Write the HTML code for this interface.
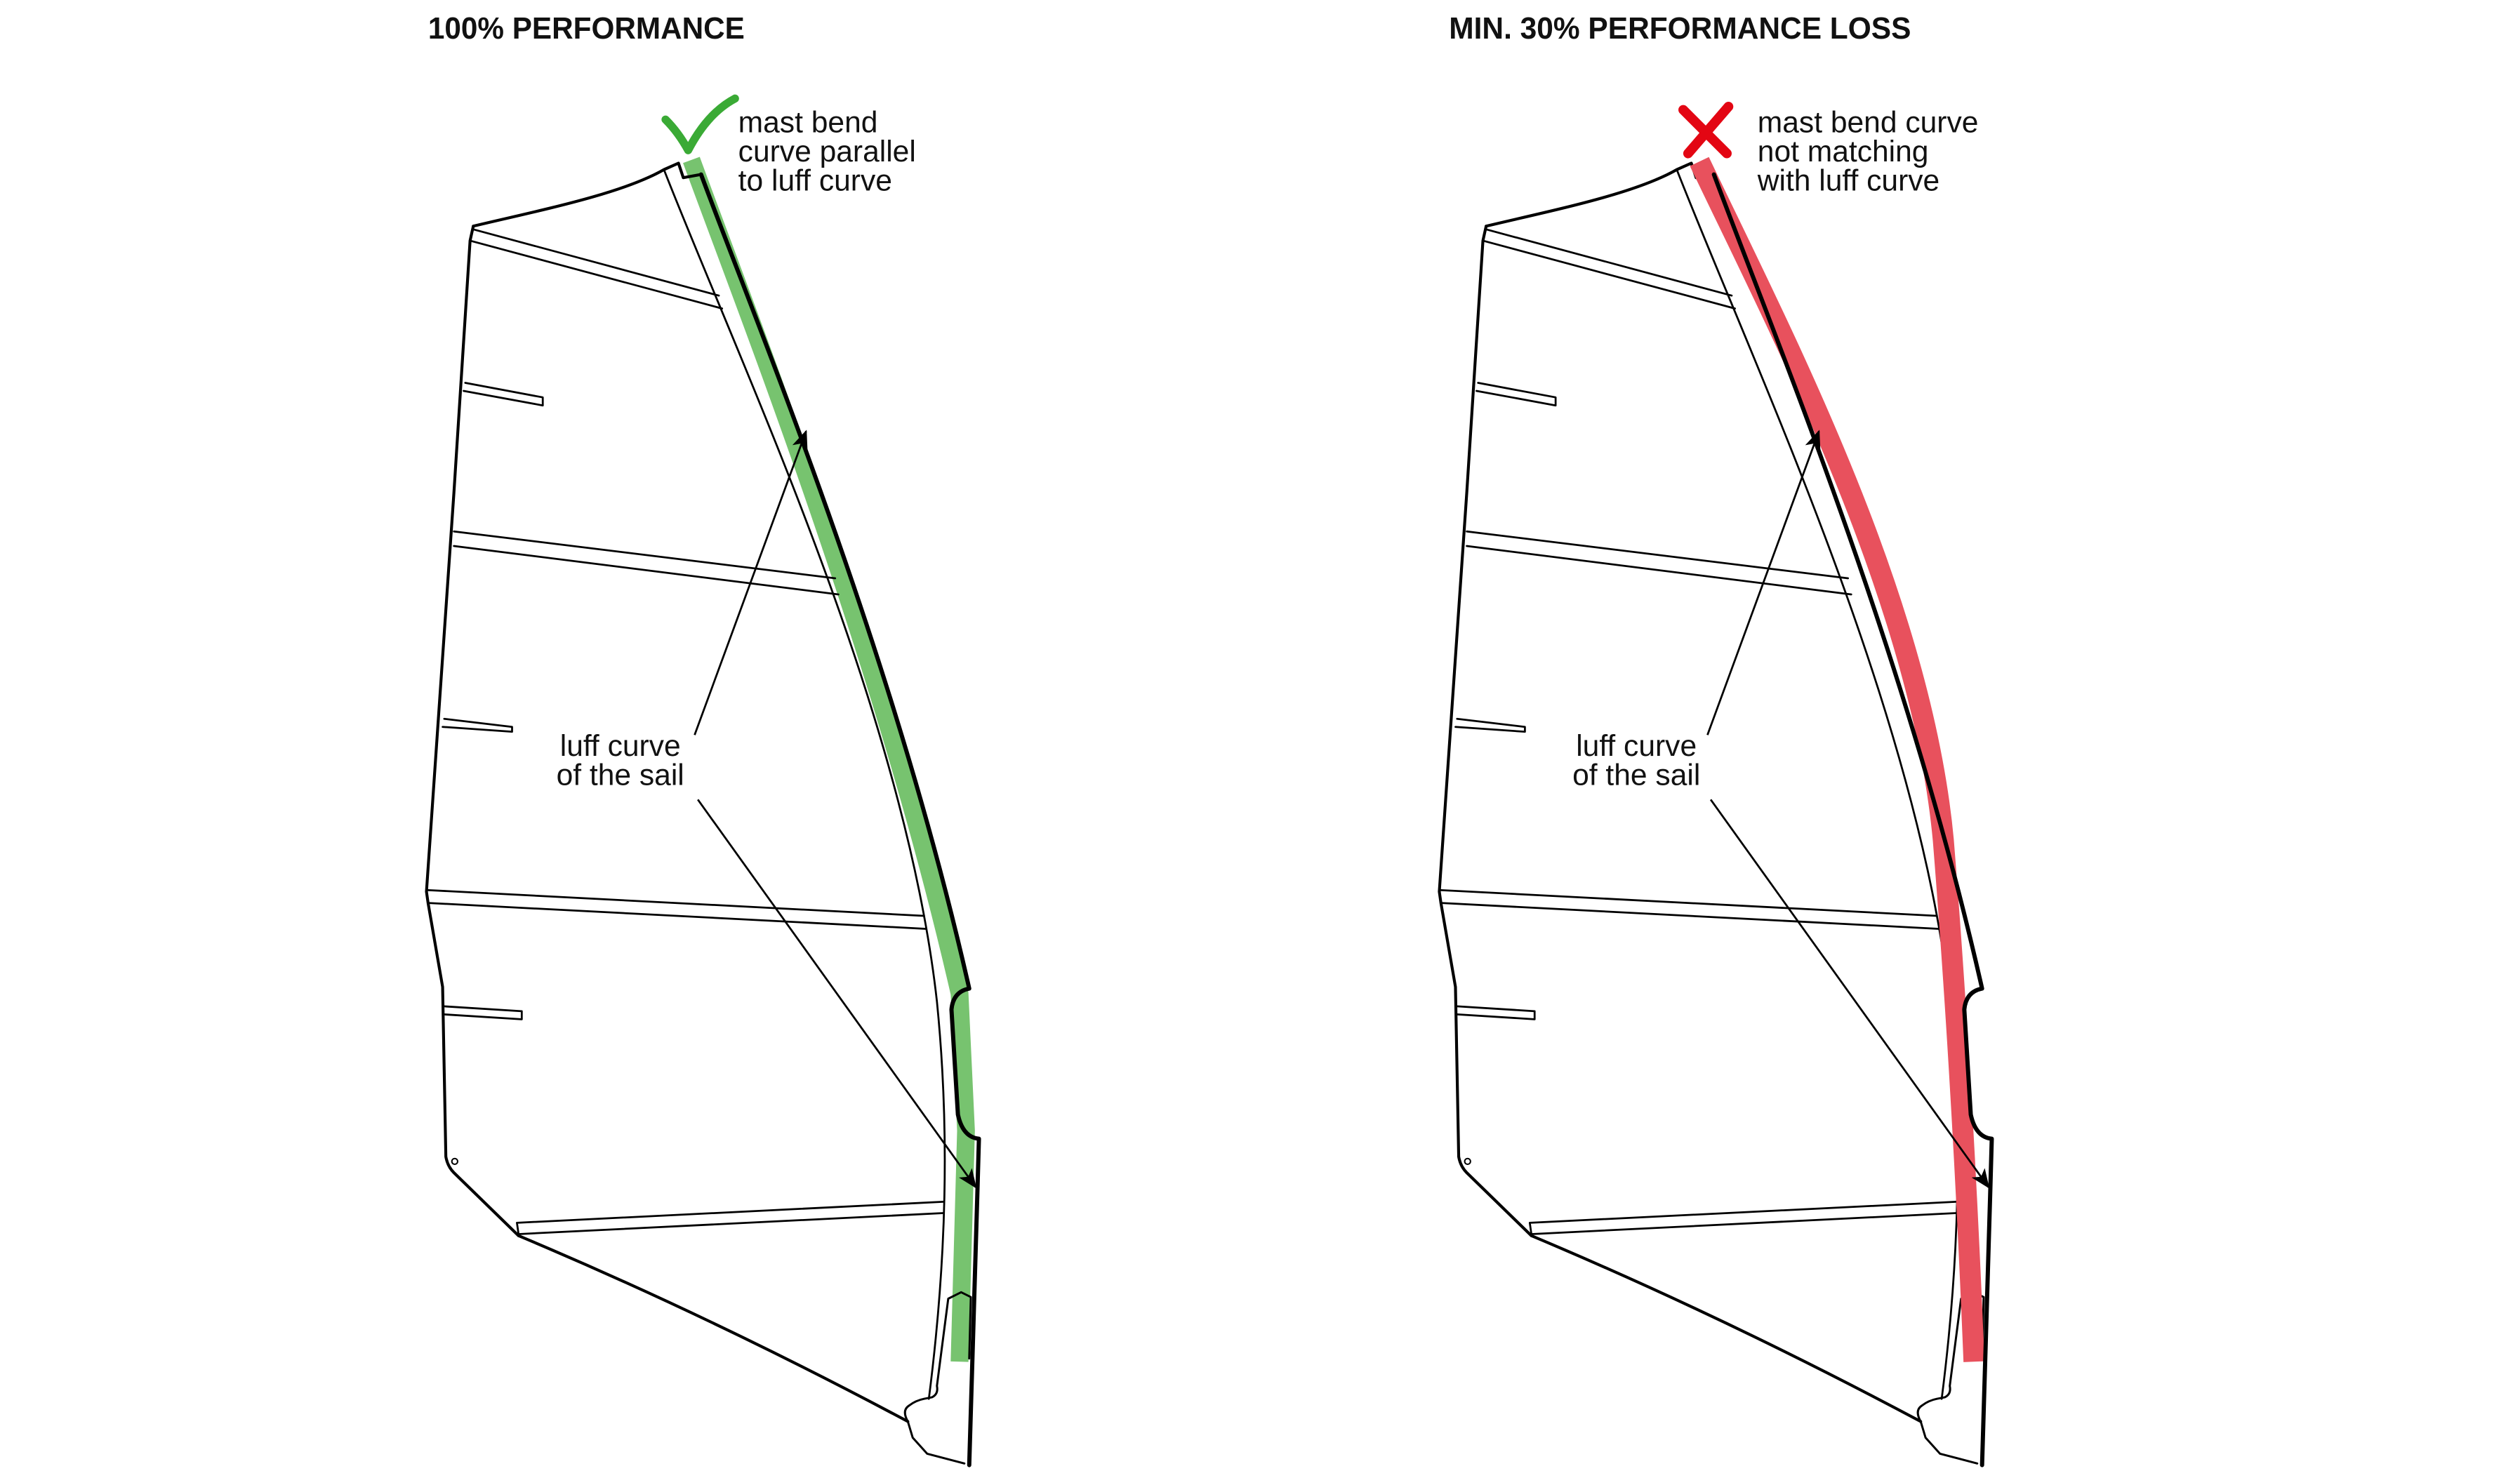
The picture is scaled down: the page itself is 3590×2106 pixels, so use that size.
<!DOCTYPE html>
<html><head><meta charset="utf-8"><style>
html,body{margin:0;padding:0;background:#fff;}
svg{display:block;}
text{font-family:"Liberation Sans",sans-serif;fill:#111;}
</style></head><body>
<svg width="3590" height="2106" viewBox="0 0 1560 915" preserveAspectRatio="none" xmlns="http://www.w3.org/2000/svg">
<defs>
<marker id="ah" viewBox="0 0 12 10" refX="11" refY="5" markerWidth="12" markerHeight="10" markerUnits="userSpaceOnUse" orient="auto">
<path d="M0,0 L12,5 L0,10 L3,5 Z" fill="#000"/>
</marker>
<g id="sail" fill="none" stroke="#000" stroke-linejoin="round" stroke-linecap="round">
  <path d="M293,140 C335,130 385,120 411,105 L420,101 L423,110 L434,108" stroke-width="1.8"/>
  <path d="M293,140 L291,149 L281,305 L264,552 L265,559 L274,611 L276,716 Q277,722 281,726 L321,765" stroke-width="1.8"/>
  <path d="M321,765 Q440,815 562,880" stroke-width="1.8"/>
  <path d="M562,880 Q558,873 563,870 Q567,867 572,866 L577,865 Q581,863 580,858 L587,804 L595,800 L601,803 L600,841" stroke-width="1.3"/>
  <path d="M562,880 L565,890 L574,900 L597,906" stroke-width="1.3"/>
  <path d="M411,105 C460,230 560,440 580,620 C588,700 586,780 575,866" stroke-width="1.2"/>
  <path d="M293,142 L445,183 M291,149 L447,191" stroke-width="1.2"/>
  <path d="M288,237 L336,246 L336,251 L287,242" stroke-width="1.2"/>
  <path d="M281,329 L517,358 M281,338 L519,368" stroke-width="1.2"/>
  <path d="M275,445 L317,450 L317,453 L274,450" stroke-width="1.2"/>
  <path d="M264,551 L572,567 M265,559 L573,575" stroke-width="1.2"/>
  <path d="M275,623 L323,626 L323,631 L275,628" stroke-width="1.2"/>
  <path d="M584,744 L320,757 L321,764 L584,751" stroke-width="1.2"/>
  <circle cx="281.5" cy="719" r="1.8" stroke-width="0.9"/>
</g>
<g id="luff" fill="none" stroke="#000" stroke-linejoin="round" stroke-linecap="round">
  <path d="M434,108 C470,205 552,400 600,612 Q590,614 589,625 L593,690 Q596,704 606,705 L605,740 L600,907" stroke-width="2.6"/>
</g>
</defs>

<text x="265" y="24" font-size="19" font-weight="bold" textLength="196" lengthAdjust="spacingAndGlyphs">100% PERFORMANCE</text>
<text x="897" y="24" font-size="19" font-weight="bold" textLength="286" lengthAdjust="spacingAndGlyphs">MIN. 30% PERFORMANCE LOSS</text>

<path d="M428,99 C465,200 546,405 594,615 L598,700 L594,843" fill="none" stroke="#77c36f" stroke-width="11"/>
<use href="#sail"/>
<use href="#luff"/>
<path d="M412,74 Q420,82 426,93 Q438,70 455,61" fill="none" stroke="#3aaa35" stroke-width="5" stroke-linecap="round" stroke-linejoin="round"/>
<text font-size="18.5"><tspan x="457" y="82">mast bend</tspan><tspan x="457" y="100">curve parallel</tspan><tspan x="457" y="118">to luff curve</tspan></text>
<text font-size="18.5" text-anchor="middle"><tspan x="384" y="468">luff curve</tspan><tspan x="384" y="486">of the sail</tspan></text>
<path d="M430,455 L499,267" fill="none" stroke="#000" stroke-width="1.2" marker-end="url(#ah)"/>
<path d="M432,495 L604,735" fill="none" stroke="#000" stroke-width="1.2" marker-end="url(#ah)"/>

<g transform="translate(627,0)">
<use href="#sail"/>
<path d="M425,100 C475,205 562,370 576,520 C584,620 590,720 595,843" fill="none" stroke="#e8515d" stroke-width="13"/>
<use href="#luff"/>
<path d="M430,455 L499,267" fill="none" stroke="#000" stroke-width="1.2" marker-end="url(#ah)"/>
<path d="M432,495 L604,735" fill="none" stroke="#000" stroke-width="1.2" marker-end="url(#ah)"/>
<text font-size="18.5" text-anchor="middle"><tspan x="386" y="468">luff curve</tspan><tspan x="386" y="486">of the sail</tspan></text>
</g>
<path d="M1042,68 L1069,95 M1070,66 L1045,95" fill="none" stroke="#e30613" stroke-width="6" stroke-linecap="round"/>
<text font-size="18.5"><tspan x="1088" y="82">mast bend curve</tspan><tspan x="1088" y="100">not matching</tspan><tspan x="1088" y="118">with luff curve</tspan></text>
</svg>
</body></html>
